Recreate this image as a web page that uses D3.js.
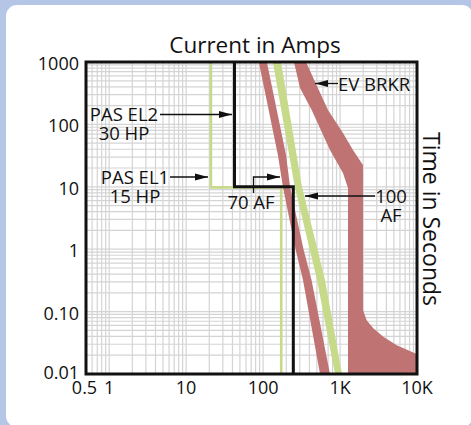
<!DOCTYPE html>
<html>
<head>
<meta charset="utf-8">
<script src="https://cdn.jsdelivr.net/npm/d3@7"></script>
<style>
  html, body { margin: 0; padding: 0; background: #b5c5e5; }
  svg { display: block; font-family: "Open Sans", sans-serif; }
  .grid line { stroke: #d4d4d4; stroke-width: 1.2; }
  .tick-label { font-size: 18px; fill: #111; }
  .note { font-size: 18.5px; fill: #111; }
</style>
</head>
<body>
<svg id="chart" width="471" height="425"></svg>
<script>
// axis ticks
const xTicks = [0.5, 1, 10, 100, 1000, 10000];
const xTickLabels = ["0.5", "1", "10", "100", "1K", "10K"];
const yTicks = [0.01, 0.1, 1, 10, 100, 1000];
const yTickLabels = ["0.01", "0.10", "1", "10", "100", "1000"];

// PAS EL1 15 HP and PAS EL2 30 HP steps, [amps, seconds]
const el1Steps = [[21, 1000], [21, 9.8], [172, 9.8], [172, 0.01]];
const el2Steps = [[42.5, 1000], [42.5, 10], [247, 10], [247, 0.01]];

// 70 AF band: seconds with low / high amps
const af70Time = [1000, 32, 10, 1, 0.32, 0.01];
const af70Lo = [88, 156, 181, 264, 330, 549];
const af70Hi = [112, 199, 224, 335, 426, 740];

// 100 AF band
const af100Time = [1000, 10, 0.32, 0.01];
const af100Lo = [134, 258, 502, 859];
const af100Hi = [171, 320, 638, 1059];

// EV BRKR band edges, [amps, seconds]
const evLeft = [[252, 1000], [302, 383], [428, 170], [740, 38.9], [1092, 16.6], [1268, 9.6], [1268, 0.01]];
const evRight = [[361, 1000], [697, 170], [1092, 72.8], [1473, 38.9], [1987, 22.4], [1987, 0.106],
  [2218, 0.073], [2704, 0.054], [3650, 0.0396], [5450, 0.029], [9420, 0.0215], [10000, 0.021]];

const margin = { left: 86, top: 62, right: 54, bottom: 51 };
const W = 471, H = 425;
const width = W - margin.left - margin.right;
const height = H - margin.top - margin.bottom;

const svg = d3.select("#chart");

// panel
svg.append("rect")
  .attr("x", 6).attr("y", 5)
  .attr("width", 467).attr("height", 422)
  .attr("rx", 11)
  .attr("fill", "#fff");

const g = svg.append("g").attr("transform", `translate(${margin.left},${margin.top})`);

const x = d3.scaleLog().domain([0.5, 10000]).range([0, width]);
const y = d3.scaleLog().domain([0.01, 1000]).range([height, 0]);

g.append("clipPath").attr("id", "plot-clip")
  .append("rect").attr("width", width).attr("height", height);

// log grid
const minor = (lo, hi) => {
  const out = [];
  for (let e = Math.floor(Math.log10(lo)); e <= Math.ceil(Math.log10(hi)); e++)
    for (let m = 1; m <= 9; m++) {
      const v = m * Math.pow(10, e);
      if (v >= lo && v <= hi) out.push(v);
    }
  return out;
};

const grid = g.append("g").attr("class", "grid");
grid.selectAll(".gx").data(minor(0.5, 10000)).join("line")
  .attr("x1", d => x(d)).attr("x2", d => x(d))
  .attr("y1", 0).attr("y2", height);
grid.selectAll(".gy").data(minor(0.01, 1000)).join("line")
  .attr("y1", d => y(d)).attr("y2", d => y(d))
  .attr("x1", 0).attr("x2", width);

const plot = g.append("g").attr("clip-path", "url(#plot-clip)");

const line = d3.line().x(d => x(d[0])).y(d => y(d[1]));

const red = "#c07373";
const green = "#c6da8a";

function band(time, lo, hi) {
  const left = time.map((t, i) => [lo[i], t]);
  const right = time.map((t, i) => [hi[i], t]).reverse();
  return line(left.concat(right)) + "Z";
}

// PAS EL1 (green step)
plot.append("path").attr("d", line(el1Steps))
  .attr("fill", "none").attr("stroke", green).attr("stroke-width", 2.6);

plot.append("path").attr("d", band(af70Time, af70Lo, af70Hi)).attr("fill", red);
plot.append("path").attr("d", band(af100Time, af100Lo, af100Hi)).attr("fill", green);

const evPoly = evLeft.concat([[10000, 0.01]], evRight.slice().reverse());
plot.append("path").attr("d", line(evPoly) + "Z").attr("fill", red);

// PAS EL2 (black step)
plot.append("path").attr("d", line(el2Steps))
  .attr("fill", "none").attr("stroke", "#111").attr("stroke-width", 3);

// frame
g.append("rect").attr("width", width).attr("height", height)
  .attr("fill", "none").attr("stroke", "#111").attr("stroke-width", 3);

// tick labels
g.selectAll(".xl").data(xTicks).join("text")
  .attr("class", "tick-label")
  .attr("text-anchor", "middle")
  .attr("x", (d, i) => x(d) + (i === 0 ? -1.5 : 0))
  .attr("y", height + 20)
  .text((d, i) => xTickLabels[i]);

g.selectAll(".yl").data(yTicks).join("text")
  .attr("class", "tick-label")
  .attr("text-anchor", "end")
  .attr("x", -7)
  .attr("y", (d, i) => y(d) + (i === 0 ? 5 : 8))
  .text((d, i) => yTickLabels[i]);

// axis titles
svg.append("text")
  .attr("x", 255).attr("y", 53)
  .attr("text-anchor", "middle")
  .attr("font-size", 22.5).attr("fill", "#111")
  .text("Current in Amps");

svg.append("text")
  .attr("transform", "translate(423,219) rotate(90)")
  .attr("text-anchor", "middle")
  .attr("font-size", 23).attr("fill", "#111")
  .text("Time in Seconds");

// annotations
const notes = svg.append("g");

function arrow(points) {
  const [p0, p1] = points.slice(-2);
  notes.append("path").attr("d", d3.line()(points))
    .attr("fill", "none").attr("stroke", "#111").attr("stroke-width", 1.3);
  const dir = Math.sign(p1[0] - p0[0]);
  const tip = p1[0], yy = p1[1];
  notes.append("path")
    .attr("d", `M${tip},${yy}L${tip - dir * 13},${yy - 3.5}L${tip - dir * 13},${yy + 3.5}Z`)
    .attr("fill", "#111");
}

// multi-line labels as one text with tspans
function label(lines, cx, baseline, anchor) {
  const t = notes.append("text").attr("class", "note")
    .attr("x", cx).attr("y", baseline)
    .attr("text-anchor", anchor || "middle");
  lines.forEach((s, i) => {
    t.append("tspan").attr("x", cx).attr("dy", i ? 19 : 0).text(s);
  });
}

label(["PAS EL2", "30 HP"], 124, 120.5);
arrow([[160, 114.5], [232, 114.5]]);

label(["PAS EL1", "15 HP"], 135, 184);
arrow([[170, 177], [208, 177]]);

label(["70 AF"], 251, 209);
arrow([[253.5, 193], [253.5, 177], [280, 177]]);

label(["EV BRKR"], 338, 91, "start");
arrow([[338, 83.5], [315, 83.5]]);

label(["100", "AF"], 391, 203);
arrow([[375, 196], [305, 196]]);
</script>
</body>
</html>
